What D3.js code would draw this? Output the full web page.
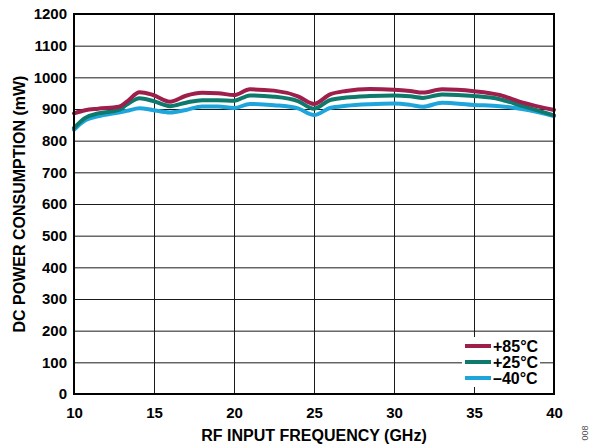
<!DOCTYPE html>
<html>
<head>
<meta charset="utf-8">
<script src="https://cdn.jsdelivr.net/npm/d3@7"></script>
<style>
  html, body { margin: 0; padding: 0; background: #fff; }
  svg { display: block; font-family: Arial, "Liberation Sans", sans-serif; }
</style>
</head>
<body>
<svg id="chart" width="591" height="448"></svg>
<script>
// RF input frequency sample points (GHz)
const freqGHz = [10, 10.7, 11.5, 12.8, 13.3, 14.1, 14.9, 16, 17, 18, 19, 20, 21, 22.5, 24, 25, 26, 27, 28.5, 30, 31, 31.8, 33, 35, 36.6, 38, 40];

// DC power consumption (mW) per temperature
const powerP85 = [886, 896, 901, 907, 923, 953, 945, 923, 942, 951, 950, 944, 962, 958, 940, 916, 946, 957, 963, 961, 957, 952, 962, 956, 944, 921, 897];
const powerP25 = [840, 872, 886, 897, 914, 934, 926, 909, 920, 928, 928, 926, 943, 939, 925, 901, 928, 936, 941, 943, 940, 935, 946, 941, 931, 910, 880];
const powerM40 = [834, 864, 877, 889, 894, 902, 897, 889, 897, 908, 908, 903, 916, 912, 902, 881, 903, 910, 915, 917, 913, 907, 920, 913, 909, 900, 878];

const seriesNames = ["+85°C", "+25°C", "–40°C"];
const seriesColors = ["#9e1f4b", "#0d7a6d", "#1ea6dc"];

const xTicks = [10, 15, 20, 25, 30, 35, 40];
const yTicks = [0, 100, 200, 300, 400, 500, 600, 700, 800, 900, 1000, 1100, 1200];

const xTitle = "RF INPUT FREQUENCY (GHz)";
const yTitle = "DC POWER CONSUMPTION (mW)";
const figureId = "008";

const margin = { left: 74, top: 14, right: 37, bottom: 54 };
const W = 591, H = 448;
const pw = W - margin.left - margin.right;
const ph = H - margin.top - margin.bottom;
const fontStack = "Arial, 'Liberation Sans', sans-serif";

const svg = d3.select("#chart");
const g = svg.append("g").attr("transform", `translate(${margin.left},${margin.top})`);

const x = d3.scaleLinear().domain([10, 40]).range([0, pw]);
const y = d3.scaleLinear().domain([0, 1200]).range([ph, 0]);

// grid
g.append("g")
  .attr("transform", `translate(0,${ph})`)
  .call(d3.axisBottom(x).tickValues(xTicks).tickSize(-ph).tickFormat(""))
  .call(a => a.select(".domain").remove())
  .selectAll("line").attr("stroke", "#1a1a1a").attr("stroke-width", 1);

g.append("g")
  .call(d3.axisLeft(y).tickValues(yTicks).tickSize(-pw).tickFormat(""))
  .call(a => a.select(".domain").remove())
  .selectAll("line").attr("stroke", "#1a1a1a").attr("stroke-width", 1);

// tick labels
const xa = g.append("g")
  .attr("transform", `translate(0,${ph})`)
  .call(d3.axisBottom(x).tickValues(xTicks).tickSize(0).tickPadding(13).tickFormat(d3.format("d")));
xa.select(".domain").remove();
xa.selectAll("text").attr("font-size", 15).attr("font-weight", "bold").attr("fill", "#000")
  .attr("font-family", fontStack);

const ya = g.append("g")
  .call(d3.axisLeft(y).tickValues(yTicks).tickSize(0).tickPadding(7).tickFormat(d3.format("d")));
ya.select(".domain").remove();
ya.selectAll("text").attr("font-size", 15).attr("font-weight", "bold").attr("fill", "#000")
  .attr("font-family", fontStack);

// curves
const allSeries = [powerP85, powerP25, powerM40];
const line = d3.line()
  .x((d, i) => x(freqGHz[i]))
  .y(d => y(d))
  .curve(d3.curveMonotoneX);

const drawOrder = [2, 1, 0];
drawOrder.forEach(k => {
  g.append("path")
    .datum(allSeries[k])
    .attr("d", line)
    .attr("fill", "none")
    .attr("stroke", seriesColors[k])
    .attr("stroke-width", 4)
    .attr("stroke-linejoin", "round")
    .attr("stroke-linecap", "round");
});

// frame
g.append("rect")
  .attr("x", 0).attr("y", 0).attr("width", pw).attr("height", ph)
  .attr("fill", "none").attr("stroke", "#000").attr("stroke-width", 2);

// legend
const lg = g.append("g").attr("transform", `translate(${pw - 92},${ph - 57})`);
lg.append("rect").attr("x", 0).attr("y", 0).attr("width", 78).attr("height", 50).attr("fill", "#fff");
seriesNames.forEach((name, i) => {
  const ly = 9 + i * 16;
  lg.append("line").attr("x1", 3).attr("x2", 29).attr("y1", ly).attr("y2", ly)
    .attr("stroke", seriesColors[i]).attr("stroke-width", 4);
  lg.append("text").attr("x", 31).attr("y", ly).attr("dy", "0.36em")
    .attr("font-size", 16).attr("font-weight", "bold").text(name);
});

// axis titles
svg.append("text")
  .attr("x", margin.left + pw / 2).attr("y", 441)
  .attr("text-anchor", "middle").attr("font-size", 16).attr("font-weight", "bold")
  .text(xTitle);

svg.append("text")
  .attr("transform", `translate(25,${margin.top + ph / 2}) rotate(-90)`)
  .attr("text-anchor", "middle").attr("font-size", 16).attr("font-weight", "bold")
  .text(yTitle);

svg.append("text")
  .attr("transform", "translate(588,433) rotate(-90)")
  .attr("text-anchor", "middle").attr("font-size", 9).attr("fill", "#555")
  .text(figureId);
</script>
</body>
</html>
